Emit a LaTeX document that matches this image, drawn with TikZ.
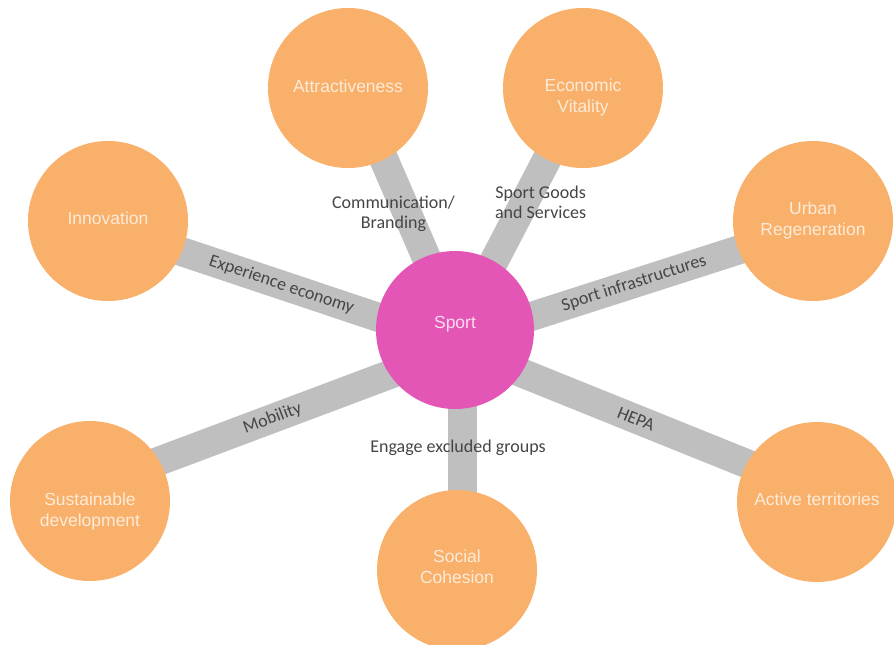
\documentclass[tikz,border=0pt]{standalone}
\usepackage{fontspec}
\setmainfont{Liberation Sans}
\newfontfamily\calf{Carlito}
\usetikzlibrary{backgrounds,calc}
\definecolor{orangec}{HTML}{F8B06B}
\definecolor{magc}{HTML}{E356B6}
\definecolor{barc}{HTML}{BFBFBF}
\definecolor{labc}{HTML}{454545}
\definecolor{ctext}{HTML}{FDEBD8}
\definecolor{stext}{HTML}{FADCEF}
\tikzset{
  outer/.style={circle, fill=orangec, minimum size=160pt, inner sep=0pt},
  hub/.style={circle, fill=magc, minimum size=158pt, inner sep=0pt},
  ctxt/.style={text=ctext, align=center, inner sep=0pt, font=\fontsize{17.5}{21}\selectfont},
  stxt/.style={text=stext, align=center, inner sep=0pt, font=\fontsize{17.5}{21}\selectfont},
  bar/.style={draw=barc, line width=29pt},
  barlabel/.style={text=labc, font=\calf\fontsize{18}{20}\selectfont, inner sep=1pt, align=center},
}
\begin{document}
\begin{tikzpicture}[x=1pt,y=-1pt]
\useasboundingbox (0,0) rectangle (894,645);
\node[hub, label={[stxt, yshift=6pt]center:Sport}] (sport) at (455,330) {};
\node[outer, label={[ctxt, yshift=2pt]center:Attractiveness}] (attr) at (348,88) {};
\node[outer, label={[ctxt, yshift=-9pt]center:{Economic\\Vitality}}] (econ) at (583,88) {};
\node[outer, label={[ctxt, yshift=3pt]center:Innovation}] (innov) at (108,221) {};
\node[outer, label={[ctxt, yshift=1pt]center:{Urban\\Regeneration}}] (urban) at (813,221) {};
\node[outer, label={[ctxt, yshift=-10pt]center:{Sustainable\\development}}] (sust) at (90,501) {};
\node[outer, label={[ctxt, yshift=3pt]center:{Social\\Cohesion}}] (social) at (457,570) {};
\node[outer, label={[ctxt, yshift=3pt]center:Active territories}] (active) at (817,502) {};
\begin{pgfonlayer}{background}
\draw[bar] ($(sport.center)+(7,10)$) -- ($(attr.center)+(5,0)$)
  node[barlabel, midway, xshift=-14pt] {Communication/\\Branding};
\draw[bar] ($(sport.center)+(-3,12)$) -- ($(econ.center)+(1,0)$)
  node[barlabel, pos=0.55, xshift=16pt] {Sport Goods\\and Services};
\draw[bar] ($(sport.center)+(0,13)$) -- ($(innov.center)+(0,6)$)
  node[barlabel, midway, sloped] {Experience economy};
\draw[bar] ($(sport.center)+(0,11)$) -- ($(urban.center)+(0,5)$)
  node[barlabel, midway, sloped] {Sport infrastructures};
\draw[bar] ($(sport.center)+(0,20)$) -- ($(sust.center)+(0,-14)$)
  node[barlabel, midway, sloped] {Mobility};
\draw[bar] ($(sport.center)+(7,0)$) -- ($(social.center)+(5,0)$)
  node[barlabel, pos=0.49, xshift=-4pt] {Engage excluded groups};
\draw[bar] ($(sport.center)+(0,16)$) -- ($(active.center)+(0,-10)$)
  node[barlabel, midway, sloped] {HEPA};
\end{pgfonlayer}
\end{tikzpicture}
\end{document}
